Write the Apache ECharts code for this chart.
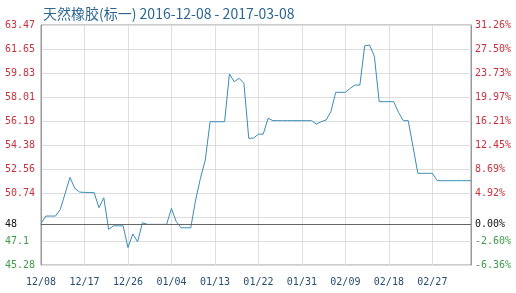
<!DOCTYPE html>
<html>
<head>
<meta charset="utf-8">
<script src="https://cdn.jsdelivr.net/npm/echarts@6/dist/echarts.min.js"></script>
<style>
html,body{margin:0;padding:0;background:#fff;}
#c{width:516px;height:293px;}
</style>
</head>
<body>
<div id="c"></div>
<script>
const titleText = '天然橡胶(标一) 2016-12-08 - 2017-03-08';
const dates = [
  '12/08','12/09','12/10','12/11','12/12','12/13','12/14','12/15','12/16','12/17',
  '12/18','12/19','12/20','12/21','12/22','12/23','12/24','12/25','12/26','12/27',
  '12/28','12/29','12/30','12/31','01/01','01/02','01/03','01/04','01/05','01/06',
  '01/07','01/08','01/09','01/10','01/11','01/12','01/13','01/14','01/15','01/16',
  '01/17','01/18','01/19','01/20','01/21','01/22','01/23','01/24','01/25','01/26',
  '01/27','01/28','01/29','01/30','01/31','02/01','02/02','02/03','02/04','02/05',
  '02/06','02/07','02/08','02/09','02/10','02/11','02/12','02/13','02/14','02/15',
  '02/16','02/17','02/18','02/19','02/20','02/21','02/22','02/23','02/24','02/25',
  '02/26','02/27','02/28','03/01','03/02','03/03','03/04','03/05','03/06','03/07'
];
const prices = [
  48.43,48.99,48.99,48.99,49.50,50.71,51.92,51.09,50.81,50.78,
  50.78,50.76,49.62,50.38,47.98,48.25,48.25,48.25,46.60,47.63,
  47.04,48.48,48.36,48.36,48.36,48.36,48.36,49.57,48.56,48.10,
  48.10,48.10,50.20,51.85,53.24,56.14,56.14,56.14,56.14,59.76,
  59.17,59.43,59.05,54.88,54.90,55.20,55.20,56.40,56.22,56.22,
  56.22,56.22,56.22,56.22,56.22,56.22,56.22,55.96,56.14,56.27,
  56.90,58.37,58.37,58.37,58.67,58.92,58.92,61.90,61.95,61.10,
  57.66,57.66,57.66,57.66,56.85,56.22,56.22,54.24,52.23,52.23,
  52.23,52.23,51.67,51.67,51.67,51.67,51.67,51.67,51.67,51.67
];
const baseValue = 48.355;
const gridValues = [45.28,47.10,48.92,50.74,52.56,54.38,56.19,58.01,59.83,61.65,63.47];
const priceLabelValues = [45.28,47.10,48.355,50.74,52.56,54.38,56.19,58.01,59.83,61.65,63.47];
const priceLabelText = ['45.28','47.1','48','50.74','52.56','54.38','56.19','58.01','59.83','61.65','63.47'];
const pctLabelValues = [-6.36,-2.60,0,4.92,8.69,12.45,16.21,19.97,23.73,27.50,31.26];
const pctLabelText = ['-6.36%','-2.60%','0.00%','4.92%','8.69%','12.45%','16.21%','19.97%','23.73%','27.50%','31.26%'];

const RED = '#c8323c', GREEN = '#3f9a4a', BLACK = '#111';
function nearestIdx(arr, v){
  let b = 0, d = Infinity;
  arr.forEach((x,i)=>{ const dd = Math.abs(x - v); if (dd < d){ d = dd; b = i; } });
  return b;
}
const chart = echarts.init(document.getElementById('c'), null, {renderer:'canvas'});
chart.setOption({
  animation: false,
  backgroundColor: '#fff',
  title: {
    text: titleText, left: 38, top: 2,
    textStyle: {fontSize: 14, fontWeight: 'normal', color: '#2b6690', fontFamily: 'Noto Sans CJK SC'}
  },
  grid: {left: 41, right: 45, top: 25, bottom: 28, show: true, borderColor: '#999', borderWidth: 1},
  xAxis: {
    type: 'category', data: dates, boundaryGap: false,
    axisLine: {lineStyle: {color: '#999'}},
    axisTick: {show: false},
    axisLabel: {interval: 8, margin: 12, color: '#274e72', fontSize: 10, fontFamily: 'DejaVu Sans Mono'},
    splitLine: {show: true, interval: 8, lineStyle: {color: '#dedede', width: 1}}
  },
  yAxis: [{
    type: 'value', min: gridValues[0], max: gridValues[gridValues.length-1],
    axisLine: {show: true, lineStyle: {color: '#999'}},
    axisTick: {show: false, customValues: gridValues},
    splitLine: {show: true, lineStyle: {color: '#dedede', width: 1}},
    axisLabel: {
      customValues: priceLabelValues, align: 'left', margin: 36,
      fontSize: 10, fontFamily: 'DejaVu Sans Mono',
      formatter: v => priceLabelText[nearestIdx(priceLabelValues, v)],
      color: v => { const i = nearestIdx(priceLabelValues, v); const x = priceLabelValues[i];
        return x > baseValue + 0.001 ? RED : (x < baseValue - 0.001 ? GREEN : BLACK); }
    }
  }, {
    type: 'value', position: 'right', min: pctLabelValues[0], max: pctLabelValues[pctLabelValues.length-1],
    axisLine: {show: true, lineStyle: {color: '#999'}},
    axisTick: {show: false, customValues: pctLabelValues},
    splitLine: {show: false},
    axisLabel: {
      customValues: pctLabelValues, margin: 4,
      fontSize: 10, fontFamily: 'DejaVu Sans Mono',
      formatter: v => pctLabelText[nearestIdx(pctLabelValues, v)],
      color: v => v > 0.001 ? RED : (v < -0.001 ? GREEN : BLACK)
    }
  }],
  series: [{
    type: 'line', data: prices, yAxisIndex: 0, symbol: 'none',
    lineStyle: {color: '#3b8cb8', width: 1},
    markLine: {
      silent: true, symbol: 'none', label: {show: false},
      lineStyle: {color: '#666', type: 'solid', width: 1},
      data: [{yAxis: baseValue}]
    }
  }]
});
</script>
</body>
</html>
